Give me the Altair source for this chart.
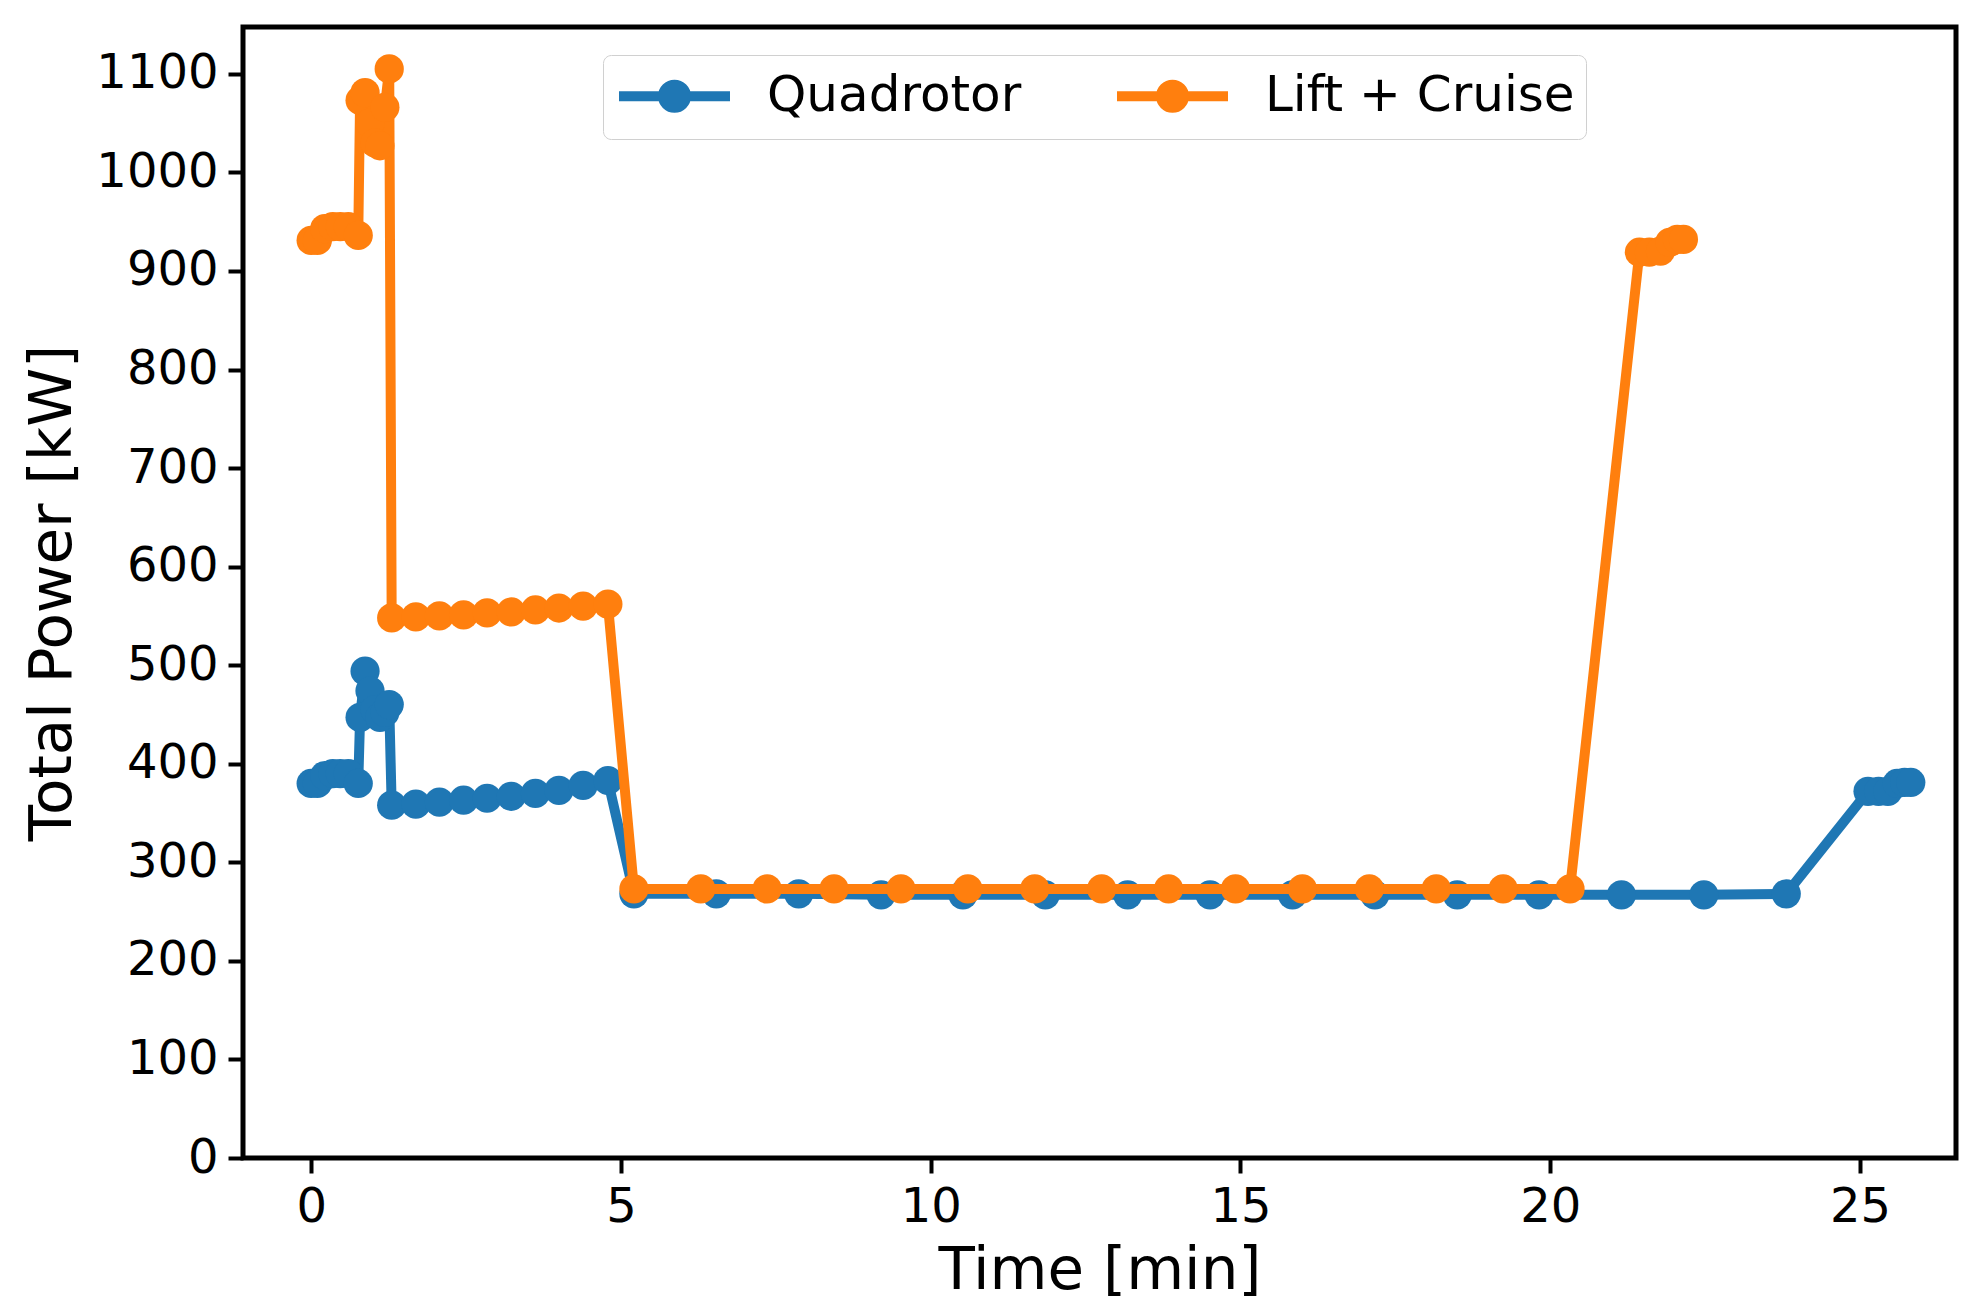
import altair as alt
import pandas as pd

# ---- data ----
quad_t = [0.0, 0.1, 0.22, 0.35, 0.47, 0.6, 0.76, 0.79, 0.87, 0.95, 1.03, 1.11, 1.19, 1.26,
          1.30, 1.69, 2.07, 2.46, 2.84, 3.23, 3.62, 4.00, 4.39, 4.79,
          5.21, 6.54, 7.87, 9.2, 10.52, 11.85, 13.18, 14.51, 15.84, 17.17, 18.5, 19.82, 21.15, 22.48, 23.81,
          25.13, 25.3, 25.45, 25.6, 25.72, 25.82]
quad_p = [380, 380, 388, 390, 390, 390, 380, 447, 494, 474, 455, 447, 452, 460,
          358, 359, 361, 363, 365, 367, 370, 373, 378, 383,
          268, 268, 268, 267, 267, 267, 267, 267, 267, 267, 267, 267, 267, 267, 268,
          372, 372, 372, 380, 381, 381]

lc_t = [0.0, 0.1, 0.22, 0.35, 0.47, 0.6, 0.76, 0.79, 0.87, 0.95, 1.03, 1.11, 1.19, 1.26,
        1.30, 1.69, 2.07, 2.46, 2.84, 3.23, 3.62, 4.00, 4.39, 4.79,
        5.21, 6.29, 7.36, 8.44, 9.52, 10.6, 11.68, 12.76, 13.84, 14.92, 16.0, 17.08, 18.16, 19.24, 20.32,
        21.44, 21.6, 21.78, 21.93, 22.05, 22.15]
lc_p = [931, 931, 943, 945, 945, 945, 936, 1073, 1081, 1050, 1030, 1027, 1066, 1105,
        548, 549, 550, 551, 553, 554, 556, 558, 560, 562,
        273, 273, 273, 273, 273, 273, 273, 273, 273, 273, 273, 273, 273, 273, 273,
        919, 919, 920, 929, 932, 932]

series_names = ["Quadrotor", "Lift + Cruise"]
series_colors = ["#1f77b4", "#ff7f0e"]
x_ticks = [0, 5, 10, 15, 20, 25]
y_ticks = list(range(0, 1101, 100))

df = pd.concat([
    pd.DataFrame({"t": quad_t, "p": quad_p, "series": series_names[0], "k": range(len(quad_t))}),
    pd.DataFrame({"t": lc_t, "p": lc_p, "series": series_names[1], "k": range(len(lc_t))}),
])

FONT = "DejaVu Sans"

x_enc = alt.X("t:Q",
              scale=alt.Scale(domain=[-1.1, 26.55], nice=False, zero=False),
              axis=alt.Axis(values=x_ticks, title="Time [min]", format="d"))
y_enc = alt.Y("p:Q",
              scale=alt.Scale(domain=[0, 1147.5], nice=False, zero=False),
              axis=alt.Axis(values=y_ticks, title="Total Power [kW]", format="d"))

cscale = alt.Scale(domain=series_names, range=series_colors)

# legend symbol: a line with a filled dot (dot built from concentric rings).
# symbol unit = sqrt(size)/2 = 25 px; the line runs 111 px starting at the symbol's left edge
S = 25.0
x0, x1 = -1.0, -1.0 + 111.0 / S
cx = (x0 + x1) / 2
r1, r2 = 4.0 / S, 11.5 / S
def ring(r):
    return (f"M {cx + r:.3f} 0 A {r:.3f} {r:.3f} 0 1 1 {cx - r:.3f} 0 "
            f"A {r:.3f} {r:.3f} 0 1 1 {cx + r:.3f} 0 ")
sym_path = f"M {x0:.3f} 0 L {x1:.3f} 0 " + ring(r1) + ring(r2)

legend = alt.Legend(
    title=None, orient="none", legendX=360, legendY=28, direction="horizontal",
    symbolType=sym_path, symbolSize=(2 * S) ** 2, symbolStrokeWidth=10,
    labelFont=FONT, labelFontSize=50, labelColor="black", labelOffset=93,
    columnPadding=75, padding=11, strokeColor="#d0d0d0", fillColor="white",
    cornerRadius=8, labelLimit=600,
)

base = alt.Chart(df)
layers = []
for i, name in enumerate(series_names):
    sub = base.transform_filter(alt.datum.series == name)
    line = sub.mark_line(strokeWidth=10, strokeJoin="round").encode(
        x=x_enc, y=y_enc, order="k:Q",
        stroke=alt.Stroke("series:N", scale=cscale, legend=legend),
    )
    pts = sub.mark_circle(size=855, opacity=1).encode(
        x=x_enc, y=y_enc,
        fill=alt.Fill("series:N", scale=cscale, legend=None),
    )
    layers += [line, pts]

chart = alt.layer(*layers).properties(
    width=1713, height=1131,
    padding={"left": 235, "top": 19, "right": 11, "bottom": 150},
    autosize=alt.AutoSizeParams(type="none"),
).configure_view(
    stroke="black", strokeWidth=5,
).configure_axis(
    grid=False, domain=False,
    labelFont=FONT, labelFontSize=48, labelColor="black", labelPadding=10,
    titleFont=FONT, titleFontSize=59.5, titleColor="black", titleFontWeight="normal",
    tickSize=15, tickWidth=4, tickColor="black",
).configure_axisY(titlePadding=13).configure_axisX(titlePadding=10)

chart.save("out.html", embed_options={"renderer": "svg", "actions": False})
